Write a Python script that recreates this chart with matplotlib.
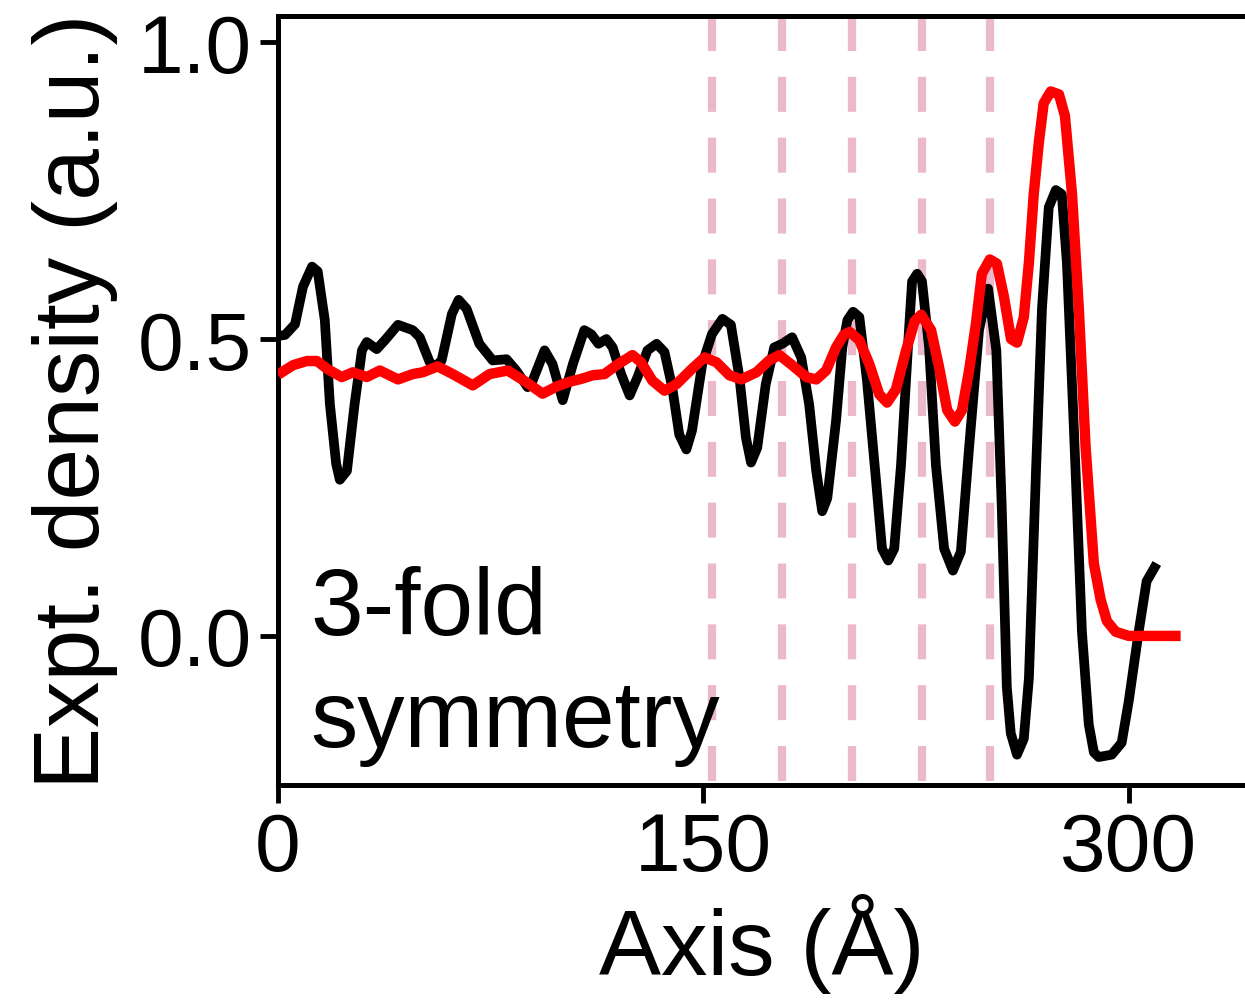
import matplotlib
matplotlib.use("Agg")
import matplotlib.pyplot as plt

plt.rcParams["font.family"] = ["Liberation Sans", "DejaVu Sans"]

# experimental density profile (black)
expt_x = [0, 2.5, 6, 8.8, 12, 14, 16.5, 18.3, 20.5, 21.8, 24.3, 27, 29.6, 31.3,
          34.8, 37.7, 42.3, 47.5, 50, 53.5, 55.3, 57.7, 61.3, 63.7, 66.5, 71,
          75.7, 80.6, 84, 88, 89.8, 94, 96.8, 100.4, 104, 108, 110.5, 113,
          115.8, 118, 121, 124, 126.8, 130.3, 133.5, 136.3, 139, 141.5, 144,
          146, 149.6, 153, 156.7, 159.7, 162.7, 165, 166.8, 169, 172, 175,
          177.8, 181.3, 184.5, 187.3, 189.8, 191.9, 193.7, 196.8, 199, 200.8,
          202.8, 205, 207.7, 210.9, 213, 215.2, 217.3, 219.7, 222.5, 223.6,
          225.4, 227.1, 229.6, 232, 234.9, 238, 240.8, 243.7, 247.2, 250.4,
          253.3, 255.2, 257, 258.4, 260.6, 263, 264.8, 267.3, 269.4, 271.8,
          274.3, 276.4, 278.2, 280.6, 283.5, 285.9, 287.7, 289.4, 294, 297.5,
          300, 303.5, 306.3, 309.9]
expt_y = [0.505, 0.507, 0.525, 0.588, 0.622, 0.614, 0.532, 0.39, 0.29, 0.263,
          0.278, 0.39, 0.481, 0.495, 0.483, 0.498, 0.524, 0.515, 0.503, 0.461,
          0.453, 0.464, 0.542, 0.566, 0.551, 0.492, 0.464, 0.466, 0.447, 0.419,
          0.43, 0.481, 0.458, 0.397, 0.458, 0.515, 0.508, 0.492, 0.5, 0.486,
          0.441, 0.405, 0.436, 0.481, 0.492, 0.478, 0.419, 0.339, 0.314, 0.346,
          0.458, 0.508, 0.534, 0.524, 0.436, 0.334, 0.292, 0.317, 0.424, 0.486,
          0.492, 0.503, 0.469, 0.39, 0.278, 0.21, 0.232, 0.363, 0.486, 0.532,
          0.546, 0.537, 0.43, 0.261, 0.147, 0.127, 0.147, 0.288, 0.515, 0.597,
          0.61, 0.597, 0.486, 0.288, 0.147, 0.11, 0.142, 0.317, 0.515, 0.585,
          0.481, 0.22, -0.086, -0.164, -0.2, -0.173, -0.071, 0.278, 0.551,
          0.722, 0.751, 0.744, 0.628, 0.356, 0.007, -0.149, -0.196, -0.204,
          -0.2, -0.18, -0.11, 0.007, 0.092, 0.122]

# model density profile (red)
model_x = [0, 5.3, 10.2, 13.7, 17.6, 22.5, 26.4, 31.3, 35.9, 42.3, 47.5, 51,
           56.3, 61.6, 68.7, 74.6, 81, 87.7, 93.3, 98.2, 102.8, 107, 111,
           115.1, 119.4, 125, 128, 132, 136.3, 140.5, 145.8, 150.4, 154.6,
           159.2, 163.4, 168.7, 173.2, 176.8, 181.3, 186.3, 189.8, 193.3,
           196.8, 199.5, 201.6, 205, 208.5, 212, 214.8, 217.9, 221.5, 224.5,
           226.8, 230.3, 233.1, 236, 238.7, 241.2, 243.7, 246.1, 248.2, 251,
           253.5, 256, 258.5, 260.6, 263, 264.8, 266.5, 268.3, 270, 272.5,
           275.4, 277.5, 280, 282.4, 284.8, 287.7, 290.1, 292.3, 295.4, 300,
           318.3]
model_y = [0.44, 0.456, 0.463, 0.463, 0.449, 0.436, 0.444, 0.436, 0.447, 0.432,
           0.441, 0.444, 0.454, 0.441, 0.422, 0.441, 0.447, 0.427, 0.408, 0.42,
           0.428, 0.433, 0.439, 0.441, 0.456, 0.473, 0.461, 0.43, 0.413, 0.424,
           0.449, 0.469, 0.461, 0.439, 0.432, 0.444, 0.464, 0.473, 0.456, 0.436,
           0.432, 0.447, 0.486, 0.507, 0.512, 0.498, 0.458, 0.407, 0.393, 0.415,
           0.481, 0.53, 0.541, 0.515, 0.453, 0.38, 0.361, 0.38, 0.447, 0.525,
           0.61, 0.634, 0.627, 0.571, 0.5, 0.494, 0.537, 0.629, 0.744, 0.831,
           0.897, 0.917, 0.912, 0.876, 0.744, 0.551, 0.317, 0.122, 0.061, 0.025,
           0.007, 0.0, 0.0]

# positions of the dashed guide lines
marks = [153.2, 177.8, 202.3, 227.2, 251.0]

fig = plt.figure(figsize=(12.45, 10.03), dpi=100)
ax = fig.add_axes([0.2233, 0.2164, 0.7767, 0.7666])

for m in marks:
    # ymin=1 -> ymax=0 so the dash pattern starts at the top spine
    ax.axvline(m, ymin=1, ymax=0, color="#ecb8cb", lw=6,
               dashes=(4.2, 3.1), zorder=1)

ax.plot(expt_x, expt_y, color="black", lw=7,
        solid_capstyle="butt", solid_joinstyle="round", zorder=2)
ax.plot(model_x, model_y, color="#ff0000", lw=7.5,
        solid_capstyle="butt", solid_joinstyle="round", zorder=3)

# baseline of the last line ("symmetry")
ax.text(11.5, -0.185, "3-fold\nsymmetry", fontsize=68, va="baseline",
        ha="left", linespacing=1.33)

ax.set_xlim(0, 341)
ax.set_ylim(-0.251, 1.044)
ax.set_xticks([0, 150, 300])
ax.set_yticks([0.0, 0.5, 1.0])
ax.set_yticklabels(["0.0", "0.5", "1.0"])

ax.set_xlabel("Axis (Å)", fontsize=67, labelpad=4)
ax.set_ylabel("Expt. density (a.u.)", fontsize=67, labelpad=14)

ax.tick_params(axis="both", labelsize=59, length=13, width=3.5,
               direction="out", pad=6)
for side in ["left", "top", "bottom"]:
    ax.spines[side].set_linewidth(3.6)
ax.spines["right"].set_visible(False)

fig.savefig("out.png", dpi=100)
